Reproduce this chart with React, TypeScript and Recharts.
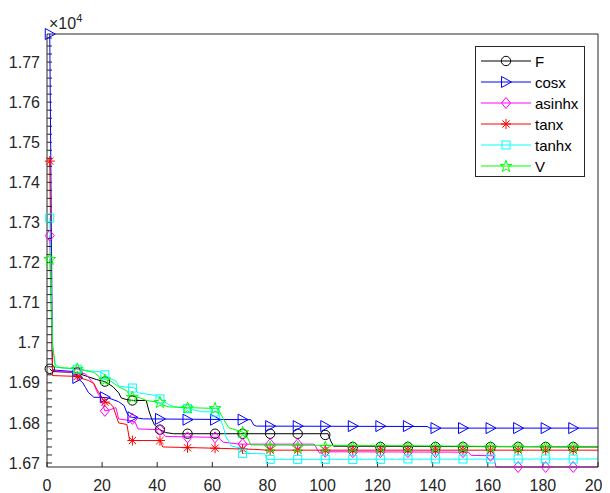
import React from 'react';
import { ComposedChart, Line, Scatter, XAxis, YAxis, Legend } from 'recharts';

// iterations that carry a marker
const markerIters = [1, 11, 21, 31, 41, 51, 61, 71, 81, 91, 101, 111, 121, 131, 141, 151, 161, 171, 181, 191];

// convergence curves: [iteration, fitness] breakpoints
const lineF: [number, number][] = [
  [1, 16935], [2, 16928], [10, 16926], [12, 16922], [15, 16915], [18, 16908], [21, 16903], [24, 16890],
  [26, 16875], [27, 16862], [29, 16858], [31, 16856], [36, 16856], [37, 16830], [38, 16810], [39, 16795],
  [41, 16783], [43, 16776], [46, 16773], [102, 16773], [103, 16755], [104, 16742], [200, 16740],
];
const lineCosx: [number, number][] = [
  [1, 17770], [2, 16932], [10, 16928], [11, 16912], [13, 16900], [14, 16888], [15, 16876], [17, 16864],
  [22, 16863], [24, 16858], [26, 16853], [28, 16843], [29, 16825], [30, 16815], [35, 16810], [74, 16808],
  [75, 16795], [76, 16792], [138, 16791], [139, 16787], [200, 16787],
];
const lineAsinhx: [number, number][] = [
  [1, 17267], [2, 16930], [10, 16926], [14, 16922], [16, 16906], [17, 16898], [18, 16880], [19, 16868],
  [20, 16850], [21, 16830], [23, 16833], [25, 16838], [26, 16810], [30, 16806], [32, 16802], [33, 16785],
  [41, 16783], [43, 16766], [62, 16764], [64, 16752], [70, 16747], [97, 16747], [98, 16735], [99, 16724],
  [100, 16728], [153, 16727], [154, 16719], [162, 16718], [163, 16690], [200, 16690],
];
const lineTanx: [number, number][] = [
  [1, 17453], [2, 16918], [11, 16916], [13, 16910], [15, 16906], [17, 16898], [18, 16885], [21, 16852],
  [23, 16848], [24, 16840], [25, 16820], [26, 16800], [29, 16796], [30, 16756], [41, 16756], [42, 16740],
  [60, 16737], [75, 16734], [80, 16732], [200, 16732],
];
const lineTanhx: [number, number][] = [
  [1, 17311], [2, 16990], [3, 16945], [5, 16937], [13, 16933], [15, 16930], [19, 16928], [21, 16920],
  [23, 16910], [25, 16905], [26, 16892], [29, 16889], [32, 16887], [33, 16875], [40, 16868], [41, 16860],
  [42, 16856], [44, 16846], [46, 16841], [51, 16836], [56, 16828], [62, 16827], [64, 16790], [65, 16765],
  [67, 16742], [70, 16738], [71, 16724], [79, 16723], [80, 16709], [200, 16710],
];
const lineV: [number, number][] = [
  [1, 17209], [2, 17000], [3, 16939], [11, 16935], [14, 16930], [17, 16926], [19, 16915], [21, 16908],
  [23, 16905], [24, 16900], [26, 16890], [29, 16880], [30, 16868], [34, 16862], [36, 16856], [40, 16852],
  [42, 16845], [44, 16840], [51, 16838], [62, 16836], [64, 16810], [66, 16788], [71, 16777], [72, 16774],
  [73, 16760], [74, 16745], [200, 16740],
];

// marker values at markerIters
const markF = [16935, 16926, 16903, 16856, 16783, 16773, 16773, 16773, 16773, 16773, 16770, 16740, 16740, 16740, 16740, 16740, 16740, 16740, 16740, 16740];
const markCosx = [17770, 16912, 16864, 16814, 16810, 16808, 16808, 16808, 16792, 16792, 16792, 16792, 16792, 16792, 16787, 16787, 16787, 16787, 16787, 16787];
const markAsinhx = [17267, 16926, 16830, 16810, 16783, 16764, 16764, 16747, 16747, 16747, 16728, 16727, 16727, 16727, 16727, 16727, 16718, 16690, 16690, 16690];
const markTanx = [17453, 16916, 16852, 16756, 16756, 16738, 16737, 16735, 16732, 16732, 16732, 16732, 16732, 16732, 16732, 16732, 16732, 16732, 16732, 16732];
const markTanhx = [17311, 16934, 16920, 16887, 16860, 16836, 16827, 16724, 16709, 16709, 16709, 16709, 16709, 16710, 16710, 16710, 16710, 16710, 16710, 16710];
const markV = [17209, 16935, 16908, 16865, 16852, 16838, 16837, 16777, 16740, 16740, 16740, 16740, 16740, 16740, 16740, 16740, 16740, 16740, 16740, 16740];

const seriesNames = ['F', 'cosx', 'asinhx', 'tanx', 'tanhx', 'V'];
const seriesColors = ['#000000', '#0000ff', '#ff00ff', '#ff0000', '#00ffff', '#00ff00'];
const seriesKinds = ['circle', 'triR', 'diamond', 'asterisk', 'square', 'star'];
const seriesLines = [lineF, lineCosx, lineAsinhx, lineTanx, lineTanhx, lineV];
const seriesMarks = [markF, markCosx, markAsinhx, markTanx, markTanhx, markV];

const xTicks = [0, 20, 40, 60, 80, 100, 120, 140, 160, 180, 200];
const yMajorTicks = [16700, 16800, 16900, 17000, 17100, 17200, 17300, 17400, 17500, 17600, 17700];
const yAllTicks: number[] = [];
for (let v = 16700; v <= 17760; v += 20) yAllTicks.push(v);
const yDomain: [number, number] = [16690, 17770];
const xDomain: [number, number] = [0, 200];

const AXIS = '#262626';
const FONT = '"Liberation Sans", Arial, Helvetica, sans-serif';

function drawMarker(kind: string, cx: number, cy: number, color: string, key?: string) {
  const common = { fill: 'none', stroke: color, strokeWidth: 1 };
  switch (kind) {
    case 'circle':
      return <circle key={key} cx={cx} cy={cy} r={4.7} {...common} />;
    case 'triR':
      return <polygon key={key} points={`${cx - 4.5},${cy - 5.5} ${cx + 5.5},${cy} ${cx - 4.5},${cy + 5.5}`} {...common} />;
    case 'diamond':
      return <polygon key={key} points={`${cx},${cy - 5.5} ${cx + 4.5},${cy} ${cx},${cy + 5.5} ${cx - 4.5},${cy}`} {...common} />;
    case 'asterisk':
      return (
        <path key={key}
          d={`M${cx - 5},${cy}H${cx + 5}M${cx},${cy - 5}V${cy + 5}M${cx - 3.6},${cy - 3.6}L${cx + 3.6},${cy + 3.6}M${cx - 3.6},${cy + 3.6}L${cx + 3.6},${cy - 3.6}`}
          {...common} />
      );
    case 'square':
      return <rect key={key} x={cx - 4} y={cy - 4} width={8} height={8} {...common} />;
    case 'star': {
      const pts: string[] = [];
      for (let i = 0; i < 10; i++) {
        const r = i % 2 === 0 ? 6.2 : 2.5;
        const a = -Math.PI / 2 + (i * Math.PI) / 5;
        pts.push(`${cx + r * Math.cos(a)},${cy + 0.5 + r * Math.sin(a)}`);
      }
      return <polygon key={key} points={pts.join(' ')} {...common} />;
    }
    default:
      return null;
  }
}

const yTickFormatter = (v: number) => (yMajorTicks.includes(v) ? String(+(v / 10000).toFixed(2)) : '');

function LegendBox() {
  const rowY = [14, 35, 56, 77, 98, 119];
  return (
    <div style={{ width: 110, height: 131, boxSizing: 'border-box', border: `1px solid ${AXIS}`, background: '#fff' }}>
      <svg width={108} height={129} style={{ display: 'block' }}>
        {seriesNames.map((n, i) => (
          <g key={n}>
            <line x1={5} x2={55} y1={rowY[i]} y2={rowY[i]} stroke={seriesColors[i]} strokeWidth={1} />
            {drawMarker(seriesKinds[i], 30, rowY[i], seriesColors[i])}
            <text x={59} y={rowY[i] + 5.5} fontSize={15} fontFamily={FONT} fill="#000">{n}</text>
          </g>
        ))}
      </svg>
    </div>
  );
}

export default function App() {
  const tickStyle = { fontSize: 16, fontFamily: FONT, fill: AXIS };
  return (
    <div style={{ position: 'relative', width: 602, height: 485 }}>
      <ComposedChart width={602} height={485} margin={{ top: 0, right: 0, bottom: 0, left: 0 }}>
        <XAxis dataKey="x" type="number" domain={xDomain} ticks={xTicks} interval={0} height={26}
          tickSize={-5} tickMargin={18} tick={tickStyle} axisLine={{ stroke: AXIS }} tickLine={{ stroke: AXIS }} />
        <XAxis xAxisId="top" orientation="top" type="number" domain={xDomain} ticks={xTicks} interval={0} height={26}
          tickSize={-5} tick={false} axisLine={{ stroke: AXIS }} tickLine={{ stroke: AXIS }} />
        <YAxis dataKey="y" type="number" domain={yDomain} ticks={yAllTicks} interval={0} width={39}
          tickSize={-5} tickMargin={12} tick={tickStyle} tickFormatter={yTickFormatter}
          axisLine={{ stroke: AXIS }} tickLine={{ stroke: AXIS }} />
        <YAxis yAxisId="r" orientation="right" type="number" domain={yDomain} ticks={yAllTicks} interval={0} width={12}
          tickSize={-5} tick={false} axisLine={{ stroke: AXIS }} tickLine={{ stroke: AXIS }} />
        {seriesNames.flatMap((n, i) => [
          <Line key={`l-${n}`} name={n} data={seriesLines[i].map(([x, y]) => ({ x, y }))} dataKey="y" type="linear"
            stroke={seriesColors[i]} strokeWidth={1} dot={false} activeDot={false} isAnimationActive={false} legendType="none" />,
          <Scatter key={`s-${n}`} name={n} data={markerIters.map((x, k) => ({ x, y: seriesMarks[i][k] }))} dataKey="y"
            isAnimationActive={false} legendType="none"
            shape={(p: any) => drawMarker(seriesKinds[i], p.cx, p.cy, seriesColors[i]) as any} />,
        ])}
        <Legend layout="vertical" align="center" verticalAlign="middle" content={() => <LegendBox />}
          wrapperStyle={{ position: 'absolute', left: 467, top: 38, width: 110, height: 131 }} />
      </ComposedChart>
      <svg width={120} height={30} style={{ position: 'absolute', left: 0, top: 0, pointerEvents: 'none' }}>
        <text x={41} y={21} fontSize={16} fontFamily={FONT} fill={AXIS}>
          ×10<tspan fontSize={11} dy={-7}>4</tspan>
        </text>
      </svg>
    </div>
  );
}
